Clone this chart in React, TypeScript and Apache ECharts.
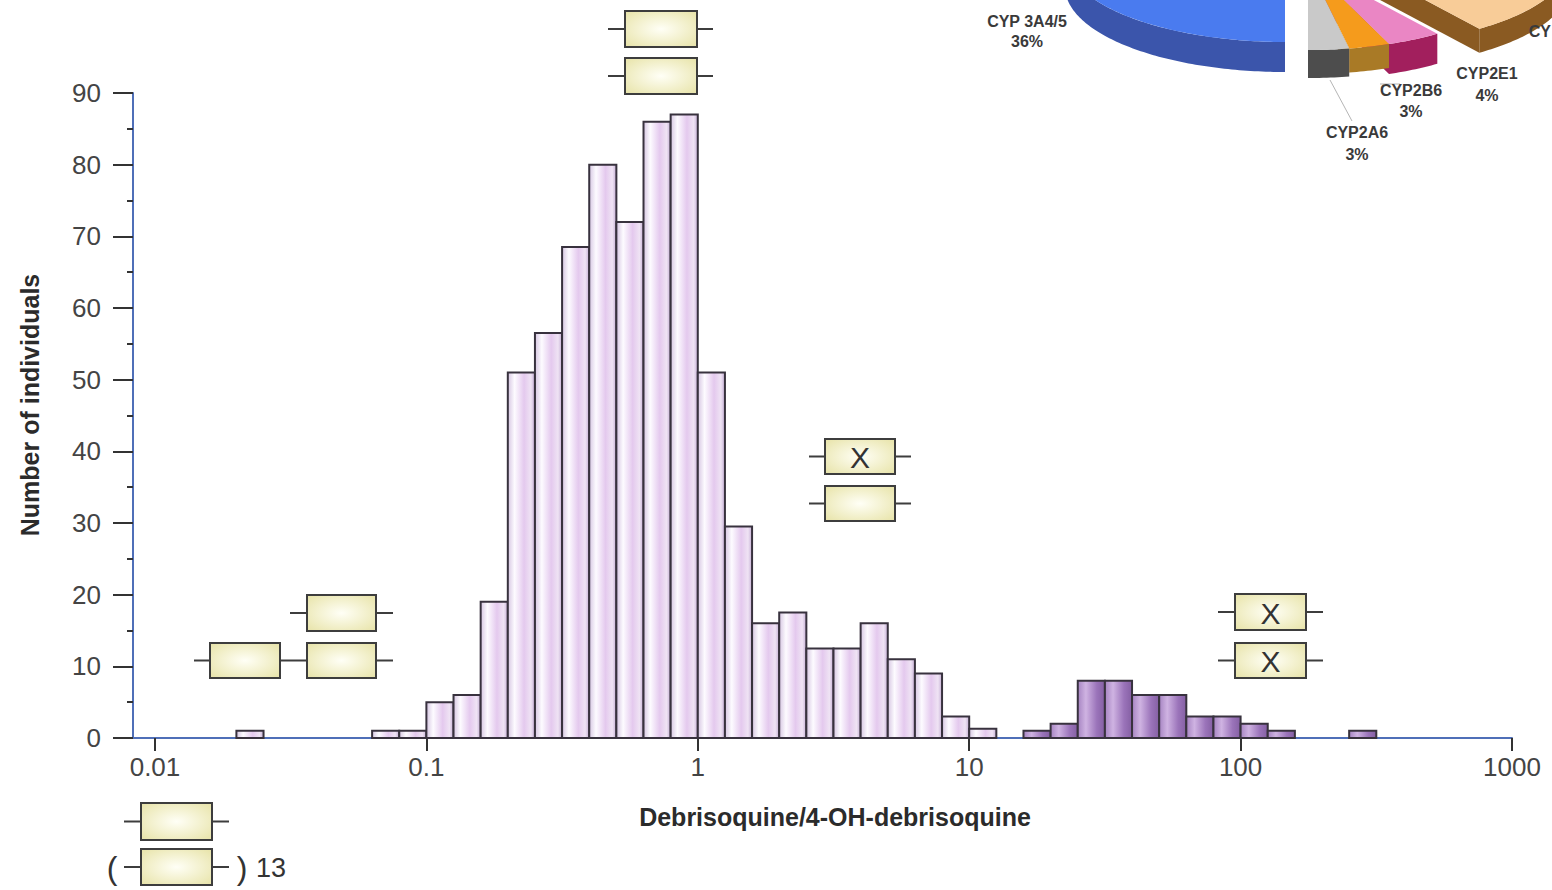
import React, { useEffect, useRef } from 'react';
import * as echarts from 'echarts';

// ---- axis ticks (x axis is drawn in log10 space) ----
const xTickExponents = [-2, -1, 0, 1, 2, 3];
const xTickLabels = ['0.01', '0.1', '1', '10', '100', '1000'];
const binWidthDecades = 0.1;

// ---- histogram: log10 of each bin's lower edge, and counts ----
const extensiveBinStarts = [-1.7, -1.2, -1.1, -1.0, -0.9, -0.8, -0.7, -0.6, -0.5, -0.4, -0.3, -0.2, -0.1,
  0.0, 0.1, 0.2, 0.3, 0.4, 0.5, 0.6, 0.7, 0.8, 0.9, 1.0];
const extensiveCounts = [1, 1, 1, 5, 6, 19, 51, 56.5, 68.5, 80, 72, 86, 87,
  51, 29.5, 16, 17.5, 12.5, 12.5, 16, 11, 9, 3, 1.3];
const poorBinStarts = [1.2, 1.3, 1.4, 1.5, 1.6, 1.7, 1.8, 1.9, 2.0, 2.1, 2.4];
const poorCounts = [1, 2, 8, 8, 6, 6, 3, 3, 2, 1, 1];

// ---- inset pie (CYP share of drug metabolism) ----
const pieNames = ['CYP 3A4/5', 'CYP2A6', 'CYP2B6', 'CYP2E1', 'CY'];
const piePercents = [36, 3, 3, 4, 19];

const FONT = '"Liberation Sans", Arial, sans-serif';

function geneBox(b: any) {
  const els: any[] = [];
  const my = b.y + b.h / 2;
  const line = (x1: number, x2: number) => ({
    type: 'line', shape: { x1, y1: my, x2, y2: my },
    style: { stroke: '#3d3d3d', lineWidth: 2 },
  });
  if (b.l) els.push(line(b.x - b.l, b.x));
  if (b.r) els.push(line(b.x + b.w, b.x + b.w + b.r));
  els.push({
    type: 'rect', shape: { x: b.x, y: b.y, width: b.w, height: b.h },
    style: {
      fill: new echarts.graphic.RadialGradient(0.5, 0.5, 0.65, [
        { offset: 0, color: '#fffff6' }, { offset: 1, color: '#e9e5ad' },
      ]),
      stroke: '#3d3d3d', lineWidth: 2,
    },
  });
  if (b.mark) {
    els.push({
      type: 'text', x: b.x + b.w / 2, y: my + 1,
      style: { text: b.mark, font: `30px ${FONT}`, fill: '#333', align: 'center', verticalAlign: 'middle' },
    });
  }
  return els;
}

const geneBoxes = [
  { x: 625, y: 11, w: 72, h: 36, l: 17, r: 16 },
  { x: 625, y: 58, w: 72, h: 36, l: 17, r: 16 },
  { x: 825, y: 439, w: 70, h: 35, l: 16, r: 16, mark: 'X' },
  { x: 825, y: 486, w: 70, h: 35, l: 16, r: 16 },
  { x: 1235, y: 594, w: 71, h: 36, l: 17, r: 17, mark: 'X' },
  { x: 1235, y: 643, w: 71, h: 35, l: 17, r: 17, mark: 'X' },
  { x: 307, y: 595, w: 69, h: 36, l: 17, r: 17 },
  { x: 210, y: 643, w: 70, h: 35, l: 16, r: 27 },
  { x: 307, y: 643, w: 69, h: 35, l: 0, r: 17 },
  { x: 141, y: 803, w: 71, h: 37, l: 17, r: 17 },
  { x: 141, y: 849, w: 71, h: 36, l: 17, r: 17 },
];

function buildPie() {
  const RX = 220, RY = 85;
  const topColors = ['#4a7bef', '#c9c9c9', '#f59b1c', '#ea86c4', '#f8cc98'];
  const sideColors = ['#3b55ab', '#4d4d4d', '#a97a26', '#a21f5d', '#8a5a22'];
  const centers = [[1285, -43], [1308, -35], [1308, -35], [1308, -35], [1350, -40]];
  const depths = [30, 28, 24, 30, 24];
  const rad = (t: number) => (t * Math.PI) / 180;
  const pt = (c: number[], t: number, dy = 0) => [c[0] + RX * Math.cos(rad(t)), c[1] + RY * Math.sin(rad(t)) + dy];
  const arc = (c: number[], a: number, b: number, dy = 0) => {
    const n = Math.max(2, Math.ceil(Math.abs(b - a)));
    const pts: number[][] = [];
    for (let i = 0; i <= n; i++) pts.push(pt(c, a + ((b - a) * i) / n, dy));
    return pts;
  };
  const ranges: number[][] = [];
  ranges[0] = [90, 90 + piePercents[0] * 3.6];
  let cur = 90;
  for (let i = 1; i < piePercents.length; i++) {
    const a = cur - piePercents[i] * 3.6;
    ranges[i] = [a, cur];
    cur = a;
  }
  const els: any[] = [];
  const order = [4, 3, 2, 1, 0];
  order.forEach((i) => {
    const c = centers[i], d = depths[i];
    const [a, b] = ranges[i];
    const poly = (points: number[][], fill: string) => ({ type: 'polygon', shape: { points }, style: { fill } });
    const wall = (t: number) => {
      const p = pt(c, t);
      return poly([c, p, [p[0], p[1] + d], [c[0], c[1] + d]], sideColors[i]);
    };
    if (Math.cos(rad(b)) > 0.01) els.push(wall(b));
    if (Math.cos(rad(a)) < -0.01) els.push(wall(a));
    const lo = Math.max(a, 0), hi = Math.min(b, 180);
    if (hi > lo) els.push(poly([...arc(c, lo, hi), ...arc(c, hi, lo, d)], sideColors[i]));
    els.push(poly([c, ...arc(c, a, b)], topColors[i]));
  });
  const lead = (x1: number, y1: number, x2: number, y2: number) => ({
    type: 'line', shape: { x1, y1, x2, y2 }, style: { stroke: '#b5b5b5', lineWidth: 1 },
  });
  els.push(lead(1330, 80, 1352, 121));
  els.push(lead(1380, 84, 1400, 84));
  const labelPos = [[1027, 21, 41], [1357, 132, 154], [1411, 90, 111], [1487, 73, 95]];
  labelPos.forEach((p, i) => {
    els.push({ type: 'text', x: p[0], y: p[1], style: { text: pieNames[i], font: `bold 16px ${FONT}`, fill: '#3a3a3a', align: 'center', verticalAlign: 'middle' } });
    els.push({ type: 'text', x: p[0], y: p[2], style: { text: piePercents[i] + '%', font: `bold 16px ${FONT}`, fill: '#3a3a3a', align: 'center', verticalAlign: 'middle' } });
  });
  els.push({ type: 'text', x: 1551, y: 31, style: { text: pieNames[4], font: `bold 16px ${FONT}`, fill: '#3a3a3a', align: 'right', verticalAlign: 'middle' } });
  return els;
}

function makeRender(stops: { offset: number; color: string }[]) {
  return (params: any, api: any) => {
    const x0 = api.value(0), x1 = api.value(1), v = api.value(2);
    const p0 = api.coord([x0, 0]);
    const p1 = api.coord([x1, v]);
    return {
      type: 'rect',
      shape: { x: p0[0], y: p1[1], width: p1[0] - p0[0], height: p0[1] - p1[1] },
      style: {
        fill: new echarts.graphic.LinearGradient(0, 0, 1, 0, stops),
        stroke: '#38323e', lineWidth: 2,
      },
    };
  };
}

export default function App() {
  const ref = useRef<HTMLDivElement>(null);
  useEffect(() => {
    if (!ref.current) return;
    const chart = echarts.init(ref.current, undefined, { renderer: 'svg' });
    const graphic: any[] = [];
    buildPie().forEach((e) => graphic.push(e));
    geneBoxes.forEach((b) => geneBox(b).forEach((e) => graphic.push(e)));
    graphic.push({ type: 'text', x: 112, y: 868, style: { text: '(', font: `32px ${FONT}`, fill: '#333', align: 'center', verticalAlign: 'middle' } });
    graphic.push({ type: 'text', x: 242, y: 868, style: { text: ')', font: `32px ${FONT}`, fill: '#333', align: 'center', verticalAlign: 'middle' } });
    graphic.push({ type: 'text', x: 256, y: 868, style: { text: '13', font: `27px ${FONT}`, fill: '#333', align: 'left', verticalAlign: 'middle' } });
    graphic.push({ type: 'text', x: 835, y: 817, style: { text: 'Debrisoquine/4-OH-debrisoquine', font: `bold 25px ${FONT}`, fill: '#2b2b2b', align: 'center', verticalAlign: 'middle' } });
    graphic.push({ type: 'text', x: 30, y: 405, rotation: Math.PI / 2, style: { text: 'Number of individuals', font: `bold 25px ${FONT}`, fill: '#2b2b2b', align: 'center', verticalAlign: 'middle' } });

    const option: any = {
      animation: false,
      backgroundColor: '#ffffff',
      grid: { left: 133, top: 93, width: 1379, height: 645 },
      xAxis: {
        type: 'value',
        min: -2.081,
        max: 3,
        axisLine: { show: true, onZero: false, lineStyle: { color: '#4f6fb8', width: 2 } },
        axisTick: { show: true, customValues: xTickExponents, length: 13, lineStyle: { color: '#333', width: 2 } },
        axisLabel: {
          customValues: xTickExponents,
          formatter: (v: number) => xTickLabels[xTickExponents.indexOf(Math.round(v))] ?? '',
          fontSize: 26, color: '#444', margin: 16, fontFamily: FONT,
        },
        splitLine: { show: false },
      },
      yAxis: {
        type: 'value',
        min: 0, max: 90, interval: 10,
        axisLine: { show: true, onZero: false, lineStyle: { color: '#4f6fb8', width: 2 } },
        axisTick: { show: true, length: 20, lineStyle: { color: '#333', width: 2 } },
        minorTick: { show: true, splitNumber: 2, length: 6, lineStyle: { color: '#333', width: 2 } },
        axisLabel: { fontSize: 26, color: '#444', margin: 32, fontFamily: FONT },
        splitLine: { show: false },
      },
      series: [
        {
          type: 'custom', name: 'Extensive metabolizers',
          renderItem: makeRender([
            { offset: 0, color: '#d6c6e2' }, { offset: 0.25, color: '#fdfbff' },
            { offset: 0.6, color: '#e4c9ee' }, { offset: 0.85, color: '#efe3f4' }, { offset: 1, color: '#c4aed4' },
          ]),
          data: extensiveBinStarts.map((s, i) => [s, s + binWidthDecades, extensiveCounts[i]]),
          encode: { x: [0, 1], y: 2 }, z: 3,
        },
        {
          type: 'custom', name: 'Poor metabolizers',
          renderItem: makeRender([
            { offset: 0, color: '#a684c2' }, { offset: 0.3, color: '#cfb3e2' },
            { offset: 0.7, color: '#9b74ba' }, { offset: 1, color: '#845fa3' },
          ]),
          data: poorBinStarts.map((s, i) => [s, s + binWidthDecades, poorCounts[i]]),
          encode: { x: [0, 1], y: 2 }, z: 3,
        },
      ],
      graphic,
    };
    chart.setOption(option);
    return () => chart.dispose();
  }, []);
  return <div ref={ref} style={{ position: 'fixed', left: 0, top: 0, width: 1552, height: 890 }} />;
}
